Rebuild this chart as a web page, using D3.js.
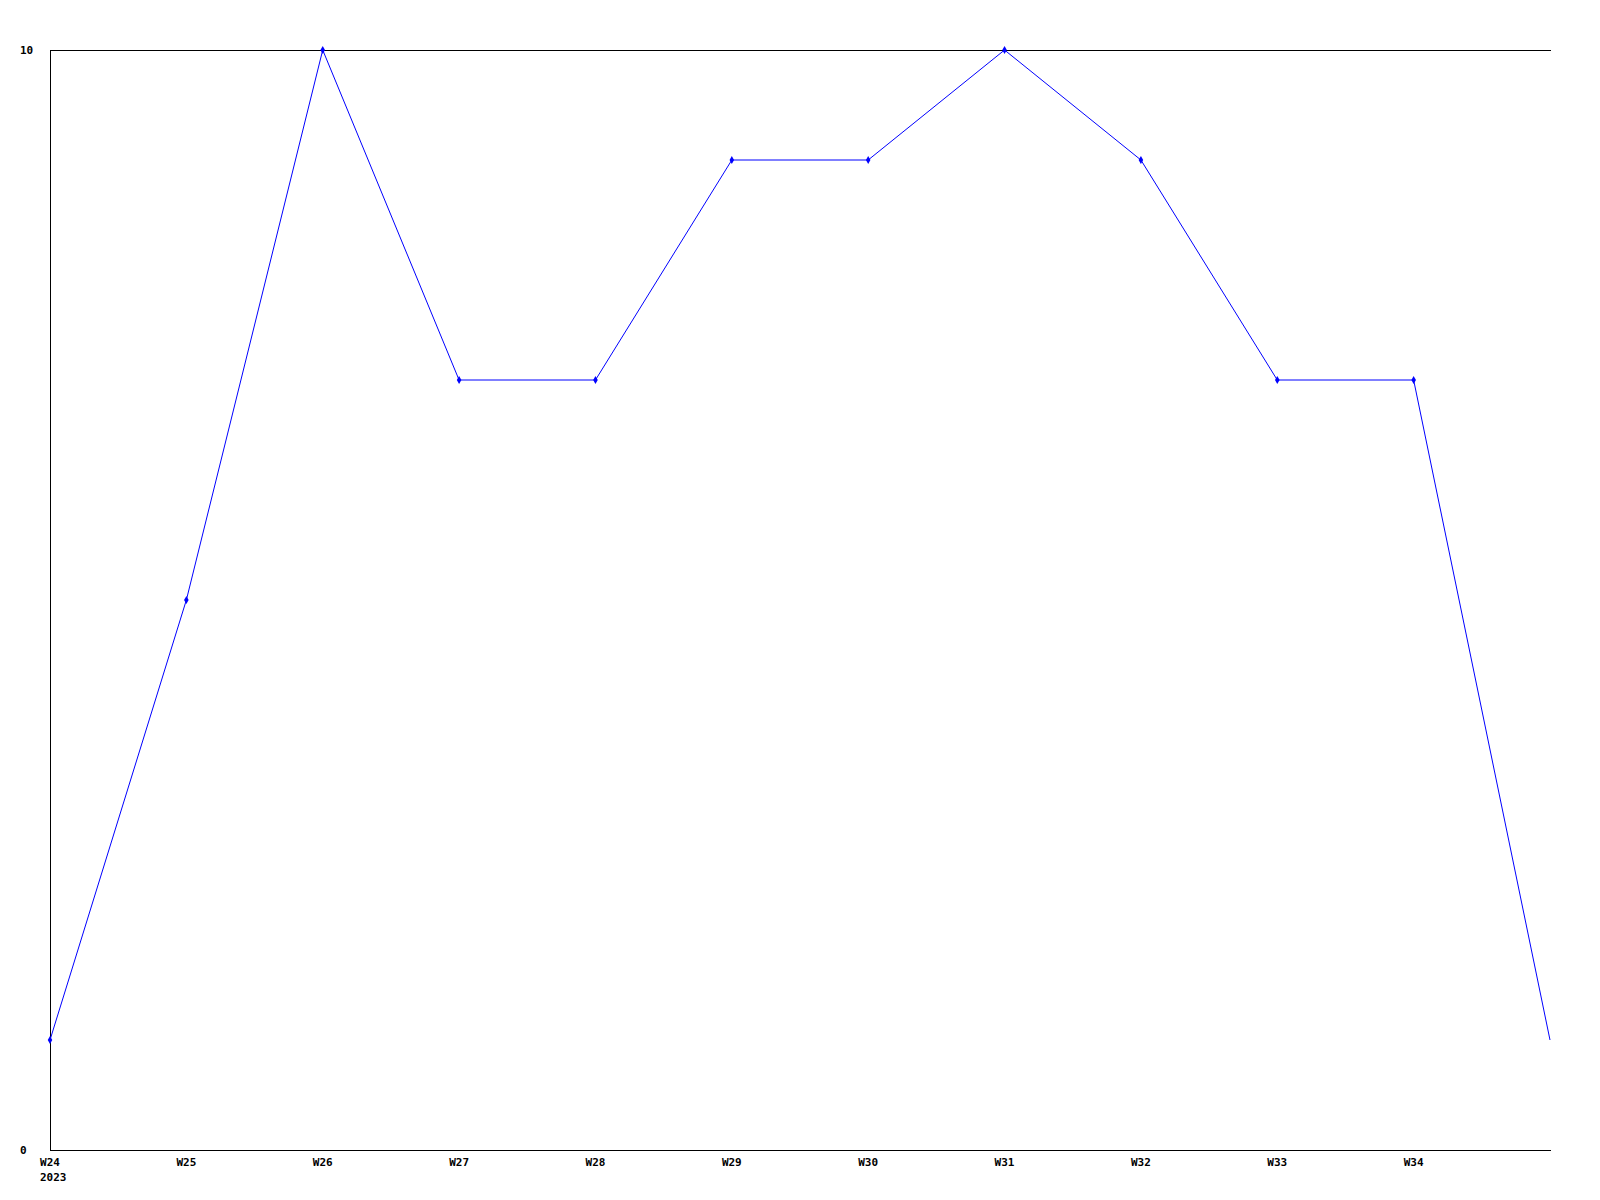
<!DOCTYPE html>
<html>
<head>
<meta charset="utf-8">
<script src="https://cdn.jsdelivr.net/npm/d3@7/dist/d3.min.js"></script>
<style>
  html, body { margin: 0; padding: 0; background: #fff; }
  svg { display: block; }
  text { font-family: "DejaVu Sans Mono", "Liberation Mono", monospace; font-weight: bold; font-size: 11px; fill: #000; }
</style>
</head>
<body>
<svg id="chart" width="1600" height="1200"></svg>
<script>
const weeks = ["W24","W25","W26","W27","W28","W29","W30","W31","W32","W33","W34","W35"];
const tickLabels = ["W24","W25","W26","W27","W28","W29","W30","W31","W32","W33","W34"];
const values = [1, 5, 10, 7, 7, 9, 9, 10, 9, 7, 7, 1];
const yTicks = [0, 10];
const yearLabel = "2023";

(function () {
const svg = d3.select("#chart");
const mLeft = 50, mRight = 1550, mTop = 50, mBottom = 1150;

const x = d3.scaleLinear().domain([0, weeks.length - 1]).range([mLeft, mRight]);
const y = d3.scaleLinear().domain([0, 10]).range([mBottom, mTop]);

// frame lines: top, left, bottom
const g = svg.append("g").attr("shape-rendering", "crispEdges");
g.append("line").attr("x1", mLeft).attr("x2", mRight + 1).attr("y1", mTop + 0.5).attr("y2", mTop + 0.5).attr("stroke", "#000");
g.append("line").attr("x1", mLeft + 0.5).attr("x2", mLeft + 0.5).attr("y1", mTop).attr("y2", mBottom + 1).attr("stroke", "#000");
g.append("line").attr("x1", mLeft).attr("x2", mRight + 1).attr("y1", mBottom + 0.5).attr("y2", mBottom + 0.5).attr("stroke", "#000");

// y tick labels
svg.selectAll(".ylab").data(yTicks).enter().append("text")
  .attr("class", "ylab")
  .attr("x", 20)
  .attr("y", d => y(d) + 4)
  .text(d => d);

// x tick labels
svg.selectAll(".xlab").data(tickLabels).enter().append("text")
  .attr("class", "xlab")
  .attr("x", (d, i) => x(i))
  .attr("y", mBottom + 16)
  .attr("text-anchor", "middle")
  .text(d => d);

svg.append("text")
  .attr("x", x(0) - 10)
  .attr("y", mBottom + 31)
  .text(yearLabel);

// line
const line = d3.line().x((d, i) => x(i)).y(d => y(d));
svg.append("path")
  .datum(values)
  .attr("d", line)
  .attr("fill", "none")
  .attr("stroke", "#0000ff")
  .attr("stroke-width", 1);

// markers (not on the final point)
svg.selectAll(".mk").data(values.slice(0, tickLabels.length)).enter().append("path")
  .attr("class", "mk")
  .attr("d", d3.symbol().type(d3.symbolDiamond).size(18))
  .attr("transform", (d, i) => `translate(${x(i)},${y(d)})`)
  .attr("fill", "#0000ff");
})();
</script>
</body>
</html>
